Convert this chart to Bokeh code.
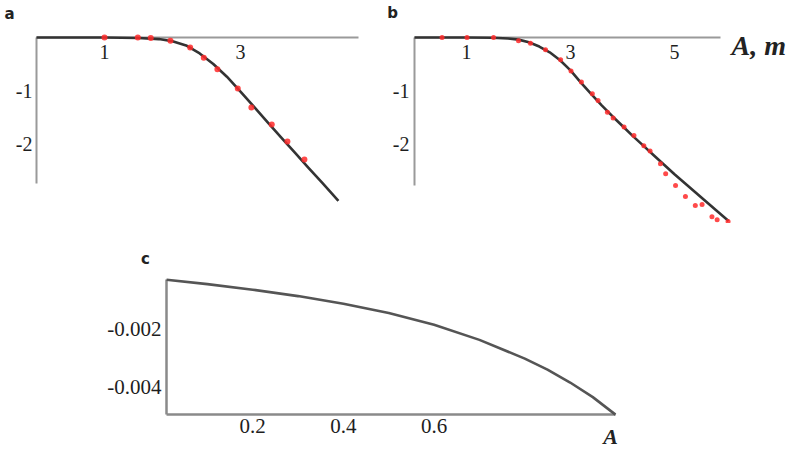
from bokeh.plotting import figure
from bokeh.models import FixedTicker, Label, Range1d, Spacer, LinearAxis
from bokeh.layouts import column, row
from bokeh.embed import file_html
from bokeh.resources import INLINE

# ---------------- data ----------------
# panel a
a_curve_x = [0.0, 0.5, 1.0, 1.5, 1.8, 2.0, 2.2, 2.4, 2.6, 2.8, 3.0, 3.2, 3.4, 3.6, 3.8, 4.0, 4.2, 4.44]
a_curve_y = [0.0, 0.0, 0.0, -0.01, -0.03, -0.07, -0.15, -0.30, -0.50, -0.74, -1.02, -1.31, -1.60, -1.89, -2.17, -2.46, -2.74, -3.08]
a_pts_x = [1.00, 1.49, 1.68, 1.97, 2.26, 2.46, 2.66, 2.96, 3.16, 3.46, 3.69, 3.94]
a_pts_y = [0.00, 0.00, -0.01, -0.06, -0.19, -0.38, -0.60, -0.96, -1.32, -1.64, -1.96, -2.30]
a_xticks = [1, 3]
a_yticks = [-1, -2]

# panel b
b_curve_x = [0.0, 1.0, 1.5, 1.8, 2.0, 2.2, 2.4, 2.6, 2.8, 3.0, 3.2, 3.4, 3.6, 3.8, 4.0, 4.2, 4.4, 4.6, 4.8, 5.0, 5.2, 5.4, 5.6, 5.8, 6.04]
b_curve_y = [0.0, 0.0, -0.005, -0.02, -0.04, -0.09, -0.17, -0.28, -0.43, -0.62, -0.85, -1.07, -1.28, -1.48, -1.67, -1.86, -2.04, -2.22, -2.40, -2.58, -2.75, -2.92, -3.09, -3.26, -3.46]
b_pts_x = [0.53, 1.01, 1.52, 2.00, 2.23, 2.52, 2.81, 3.01, 3.21, 3.42, 3.53, 3.71, 3.82, 4.03, 4.22, 4.41, 4.53, 4.73, 4.83, 5.02, 5.21, 5.40, 5.53, 5.72, 5.82, 6.03]
b_pts_y = [0.00, 0.00, 0.00, -0.06, -0.11, -0.23, -0.42, -0.63, -0.84, -1.06, -1.19, -1.41, -1.52, -1.69, -1.85, -2.04, -2.14, -2.38, -2.57, -2.79, -3.00, -3.17, -3.15, -3.38, -3.44, -3.47]
b_xticks = [1, 3, 5]
b_yticks = [-1, -2]

# panel c
c_curve_x = [0.01, 0.1, 0.2, 0.3, 0.4, 0.5, 0.6, 0.7, 0.8, 0.85, 0.9, 0.95, 1.0]
c_curve_y = [-0.00032, -0.00047, -0.00066, -0.00088, -0.00114, -0.00146, -0.00186, -0.00238, -0.00302, -0.00340, -0.00384, -0.00434, -0.00494]
c_xticks = [0.2, 0.4, 0.6]
c_yticks = [-0.002, -0.004]
c_ytick_labels = ["-0.002", "-0.004"]

TICK_FONT = "Liberation Serif"


def make_fig(w, h, xr, yr):
    p = figure(width=w, height=h, x_range=Range1d(*xr), y_range=Range1d(*yr),
               output_backend="svg", toolbar_location=None,
               x_axis_location=None, y_axis_location=None, min_border=0)
    p.xgrid.visible = False
    p.ygrid.visible = False
    p.outline_line_color = None
    p.background_fill_color = "white"
    p.border_fill_color = "white"
    return p


def add_axis(p, side, loc, bounds, ticks, standoff, size, labels=None,
             color="#9a9a9a", width=2):
    ax = LinearAxis(fixed_location=loc, bounds=bounds, ticker=FixedTicker(ticks=ticks))
    ax.axis_line_color = color
    ax.axis_line_width = width
    ax.major_tick_line_color = None
    ax.minor_tick_line_color = None
    ax.major_tick_out = 0
    ax.major_tick_in = 0
    ax.major_label_standoff = standoff
    ax.major_label_text_font = TICK_FONT
    ax.major_label_text_font_size = size
    ax.major_label_text_color = "#1e1e1e"
    if labels is None:
        labels = [str(t) for t in ticks]
    # plain hyphen-minus, as in the reference
    ax.major_label_overrides = {t: l for t, l in zip(ticks, labels)}
    p.add_layout(ax, side)
    return ax


def letter(p, txt, x, y):
    p.add_layout(Label(x=x, y=y, x_units="screen", y_units="screen", text=txt,
                       text_font="DejaVu Sans", text_font_style="bold",
                       text_font_size="15px", text_color="#222",
                       text_align="center", text_baseline="middle"))


# ---------------- panel a ----------------
pa = make_fig(385, 223, (-0.5294, 5.1324), (-3.509, 0.698))
add_axis(pa, "below", 0, (0, 4.74), a_xticks, 8, "20px")
add_axis(pa, "left", 0, (-2.75, 0), a_yticks, 4, "20px")
pa.line(a_curve_x, a_curve_y, line_color="#333333", line_width=2.6,
        line_join="round", level="overlay")
pa.scatter(a_pts_x, a_pts_y, size=6, fill_color="#ff2a2a", fill_alpha=0.85,
           line_color=None, level="overlay")
letter(pa, "a", 9, 210)

# ---------------- panel b ----------------
pb = make_fig(415, 223, (-0.5577, 7.423), (-3.509, 0.698))
add_axis(pb, "below", 0, (0, 5.88), b_xticks, 8, "20px")
add_axis(pb, "left", 0, (-2.79, 0), b_yticks, 5, "20px")
pb.line(b_curve_x, b_curve_y, line_color="#333333", line_width=2.6,
        line_join="round", level="overlay")
pb.scatter(b_pts_x, b_pts_y, size=5, fill_color="#ff2a2a", fill_alpha=0.85,
           line_color=None, level="overlay")
letter(pb, "b", 7, 211)
pb.add_layout(Label(x=346, y=178, x_units="screen", y_units="screen", text="A, m",
                    text_font="Liberation Serif", text_font_style="bold italic",
                    text_font_size="28px", text_color="#222",
                    text_align="left", text_baseline="middle"))

# ---------------- panel c ----------------
pc = make_fig(712, 227, (-0.1621, 1.408), (-0.006168, 0.001606))
add_axis(pc, "below", -0.00494, (0.01, 1.0), c_xticks, 4, "21px",
         color="#8a8a8a", width=2.5)
add_axis(pc, "left", 0.01, (-0.00494, -0.00032), c_yticks, 5, "21px",
         labels=c_ytick_labels, color="#8a8a8a", width=2.5)
pc.line(c_curve_x, c_curve_y, line_color="#555555", line_width=2.6,
        line_join="round", level="overlay")
letter(pc, "c", 57, 192)
pc.add_layout(Label(x=522, y=14, x_units="screen", y_units="screen", text="A",
                    text_font="Liberation Serif", text_font_style="bold italic",
                    text_font_size="22px", text_color="#222",
                    text_align="center", text_baseline="middle"))

layout = column(row(pa, pb), row(Spacer(width=88, height=227), pc))

open("out.html", "w").write(file_html(layout, INLINE))
